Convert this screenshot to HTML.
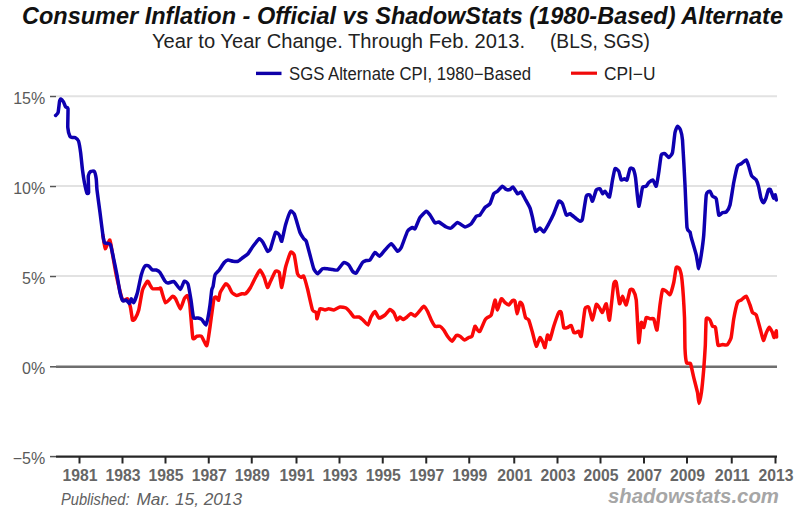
<!DOCTYPE html>
<html><head><meta charset="utf-8"><style>
html,body{margin:0;padding:0;background:#fff;}
svg{display:block;}
text{font-family:"Liberation Sans",sans-serif;}
</style></head><body>
<svg width="800" height="512" viewBox="0 0 800 512">
<rect width="800" height="512" fill="#fff"/>
<text x="22" y="23.5" font-size="23.5" font-weight="bold" font-style="italic" fill="#111" textLength="761" lengthAdjust="spacingAndGlyphs">Consumer Inflation - Official vs ShadowStats (1980-Based) Alternate</text>
<text x="152" y="48" font-size="20.5" fill="#222" textLength="373" lengthAdjust="spacingAndGlyphs">Year to Year Change. Through Feb. 2013.</text>
<text x="550" y="48" font-size="20.5" fill="#222" textLength="100" lengthAdjust="spacingAndGlyphs">(BLS, SGS)</text>
<line x1="256" y1="73.4" x2="281.5" y2="73.4" stroke="#0e00a8" stroke-width="3.4"/>
<text x="289" y="80" font-size="17.5" fill="#222" textLength="242" lengthAdjust="spacingAndGlyphs">SGS Alternate CPI, 1980−Based</text>
<line x1="571" y1="73.2" x2="597" y2="73.2" stroke="#f00a0a" stroke-width="3.2"/>
<text x="604" y="80" font-size="17.5" fill="#222" textLength="51.5" lengthAdjust="spacingAndGlyphs">CPI−U</text>
<g stroke="#e2e2e2" stroke-width="2">
<line x1="56" y1="96.3" x2="777" y2="96.3"/>
<line x1="56" y1="186.1" x2="777" y2="186.1"/>
<line x1="56" y1="276" x2="777" y2="276"/>
</g>
<g stroke="#555" stroke-width="1.5">
<line x1="50" y1="96.5" x2="56" y2="96.5"/>
<line x1="50" y1="186.5" x2="56" y2="186.5"/>
<line x1="50" y1="276.5" x2="56" y2="276.5"/>
<line x1="50" y1="366.8" x2="56" y2="366.8"/>
<line x1="50" y1="456.6" x2="56" y2="456.6"/>
</g>
<line x1="56" y1="366.8" x2="777" y2="366.8" stroke="#6e6e6e" stroke-width="2.4"/>
<g font-size="16" fill="#5a5a5a" text-anchor="end">
<text x="45.2" y="103.8">15%</text>
<text x="45.2" y="193.8">10%</text>
<text x="45.2" y="283.8">5%</text>
<text x="45.2" y="373.8">0%</text>
<text x="45.2" y="463.8">−5%</text>
</g>
<path d="M102.90 235.20 C103.09 236.32 104.62 248.30 105.20 248.70 C105.78 249.10 109.25 239.31 109.90 240.00 C110.55 240.69 112.47 254.08 113.00 257.00 C113.53 259.92 115.46 271.42 116.25 275.00 C117.04 278.58 121.56 298.02 122.50 300.00 C123.44 301.98 126.83 298.12 127.50 298.75 C128.17 299.38 130.08 305.73 130.50 307.50 C130.92 309.27 132.12 319.06 132.50 320.00 C132.88 320.94 134.48 319.58 135.00 318.75 C135.52 317.92 138.12 312.40 138.75 310.00 C139.38 307.60 141.77 292.40 142.50 290.00 C143.23 287.60 146.88 281.67 147.50 281.25 C148.12 280.83 149.58 284.38 150.00 285.00 C150.42 285.62 151.77 288.44 152.50 288.75 C153.23 289.06 158.06 288.76 158.75 288.75 C159.44 288.74 160.24 287.44 160.80 288.60 C161.36 289.76 164.53 302.05 165.50 302.70 C166.47 303.35 171.66 296.72 172.50 296.40 C173.34 296.07 174.95 297.76 175.60 298.80 C176.25 299.84 179.58 308.90 180.30 308.90 C181.02 308.90 183.67 299.86 184.25 298.75 C184.83 297.64 186.85 295.21 187.30 295.60 C187.75 295.99 189.24 299.88 189.70 303.40 C190.16 306.92 192.22 335.06 192.80 337.80 C193.38 340.54 195.98 336.43 196.70 336.30 C197.42 336.18 200.55 335.53 201.40 336.30 C202.25 337.07 206.18 346.38 206.90 345.60 C207.62 344.82 209.42 330.80 210.00 326.90 C210.58 323.00 213.38 301.28 213.90 298.80 C214.43 296.32 215.91 297.07 216.30 297.20 C216.69 297.32 218.28 300.69 218.60 300.30 C218.92 299.91 219.62 293.87 220.20 292.50 C220.78 291.13 224.89 284.42 225.60 283.90 C226.31 283.38 228.22 285.53 228.75 286.25 C229.28 286.97 231.25 291.72 231.90 292.50 C232.55 293.28 235.78 295.50 236.60 295.60 C237.42 295.70 241.01 293.90 241.75 293.75 C242.49 293.60 244.77 294.27 245.50 293.75 C246.23 293.23 249.67 288.85 250.50 287.50 C251.33 286.15 254.71 278.96 255.50 277.50 C256.29 276.04 259.27 270.00 260.00 270.00 C260.73 270.00 263.62 276.04 264.25 277.50 C264.88 278.96 266.98 287.19 267.50 287.50 C268.02 287.81 269.83 282.60 270.50 281.25 C271.17 279.90 274.77 271.98 275.50 271.25 C276.23 270.52 278.73 271.15 279.25 272.50 C279.77 273.85 281.23 287.92 281.75 287.50 C282.27 287.08 284.77 270.42 285.50 267.50 C286.23 264.58 289.77 253.54 290.50 252.50 C291.23 251.46 293.67 253.23 294.25 255.00 C294.83 256.77 296.92 271.88 297.50 273.75 C298.08 275.62 300.73 277.29 301.25 277.50 C301.77 277.71 303.23 275.31 303.75 276.25 C304.27 277.19 306.77 285.94 307.50 288.75 C308.23 291.56 311.77 308.02 312.50 310.00 C313.23 311.98 315.88 311.77 316.25 312.50 C316.62 313.23 316.69 319.06 317.00 318.75 C317.31 318.44 319.33 309.48 320.00 308.75 C320.67 308.02 324.27 310.00 325.00 310.00 C325.73 310.00 328.02 308.75 328.75 308.75 C329.48 308.75 332.81 310.15 333.75 310.00 C334.69 309.85 338.98 307.17 340.00 307.00 C341.02 306.83 345.17 307.58 346.00 308.00 C346.83 308.42 349.33 311.25 350.00 312.00 C350.67 312.75 353.25 316.58 354.00 317.00 C354.75 317.42 358.25 316.75 359.00 317.00 C359.75 317.25 362.25 319.33 363.00 320.00 C363.75 320.67 367.33 325.25 368.00 325.00 C368.67 324.75 370.42 318.12 371.00 317.00 C371.58 315.88 374.33 311.42 375.00 311.50 C375.67 311.58 378.17 317.71 379.00 318.00 C379.83 318.29 384.08 315.71 385.00 315.00 C385.92 314.29 389.25 309.67 390.00 309.50 C390.75 309.33 393.42 312.12 394.00 313.00 C394.58 313.88 396.50 319.67 397.00 320.00 C397.50 320.33 399.50 317.04 400.00 317.00 C400.50 316.96 402.42 319.50 403.00 319.50 C403.58 319.50 406.33 317.50 407.00 317.00 C407.67 316.50 410.33 313.58 411.00 313.50 C411.67 313.42 414.25 316.25 415.00 316.00 C415.75 315.75 419.27 311.31 420.00 310.50 C420.73 309.69 423.12 306.19 423.75 306.25 C424.38 306.31 426.88 310.10 427.50 311.25 C428.12 312.40 430.62 318.75 431.25 320.00 C431.88 321.25 434.27 325.73 435.00 326.25 C435.73 326.77 439.27 325.94 440.00 326.25 C440.73 326.56 443.12 329.17 443.75 330.00 C444.38 330.83 446.81 335.31 447.50 336.25 C448.19 337.19 451.27 341.31 452.00 341.25 C452.73 341.19 455.58 335.92 456.25 335.50 C456.92 335.08 459.31 335.88 460.00 336.25 C460.69 336.62 463.77 339.90 464.50 340.00 C465.23 340.10 468.12 337.81 468.75 337.50 C469.38 337.19 471.48 337.19 472.00 336.25 C472.52 335.31 474.54 326.77 475.00 326.25 C475.46 325.73 477.08 329.58 477.50 330.00 C477.92 330.42 479.38 332.08 480.00 331.25 C480.62 330.42 484.38 321.15 485.00 320.00 C485.62 318.85 486.98 317.92 487.50 317.50 C488.02 317.08 490.62 316.46 491.25 315.00 C491.88 313.54 494.48 300.42 495.00 300.00 C495.52 299.58 496.98 310.10 497.50 310.00 C498.02 309.90 500.62 299.38 501.25 298.75 C501.88 298.12 504.38 301.98 505.00 302.50 C505.62 303.02 508.12 305.17 508.75 305.00 C509.38 304.83 511.98 300.81 512.50 300.50 C513.02 300.19 514.62 300.15 515.00 301.25 C515.38 302.35 516.58 313.65 517.00 313.75 C517.42 313.85 519.54 303.23 520.00 302.50 C520.46 301.77 522.04 303.75 522.50 305.00 C522.96 306.25 524.98 316.25 525.50 317.50 C526.02 318.75 528.17 318.75 528.75 320.00 C529.33 321.25 531.88 330.31 532.50 332.50 C533.12 334.69 535.62 345.83 536.25 346.25 C536.88 346.67 539.44 337.81 540.00 337.50 C540.56 337.19 542.58 341.67 543.00 342.50 C543.42 343.33 544.62 348.12 545.00 347.50 C545.38 346.88 547.08 335.67 547.50 335.00 C547.92 334.33 549.48 340.23 550.00 339.50 C550.52 338.77 553.02 328.50 553.75 326.25 C554.48 324.00 558.12 313.65 558.75 312.50 C559.38 311.35 560.83 311.25 561.25 312.50 C561.67 313.75 563.23 326.25 563.75 327.50 C564.27 328.75 566.88 327.67 567.50 327.50 C568.12 327.33 570.73 325.08 571.25 325.50 C571.77 325.92 573.33 331.92 573.75 332.50 C574.17 333.08 575.83 332.60 576.25 332.50 C576.67 332.40 578.33 330.94 578.75 331.25 C579.17 331.56 580.73 338.12 581.25 336.25 C581.77 334.38 584.38 311.15 585.00 308.75 C585.62 306.35 588.12 306.56 588.75 307.50 C589.38 308.44 591.88 320.25 592.50 320.00 C593.12 319.75 595.62 305.44 596.25 304.50 C596.88 303.56 599.48 308.08 600.00 308.75 C600.52 309.42 601.98 312.92 602.50 312.50 C603.02 312.08 605.67 303.12 606.25 303.75 C606.83 304.38 608.88 321.67 609.50 320.00 C610.12 318.33 613.19 286.88 613.75 283.75 C614.31 280.62 615.77 280.83 616.25 282.50 C616.73 284.17 618.98 302.60 619.50 303.75 C620.02 304.90 621.94 296.15 622.50 296.25 C623.06 296.35 625.62 305.52 626.25 305.00 C626.88 304.48 629.44 291.25 630.00 290.00 C630.56 288.75 632.48 289.17 633.00 290.00 C633.52 290.83 635.77 295.62 636.25 300.00 C636.73 304.38 638.33 340.62 638.75 342.50 C639.17 344.38 640.83 323.75 641.25 322.50 C641.67 321.25 643.33 327.92 643.75 327.50 C644.17 327.08 645.73 318.23 646.25 317.50 C646.77 316.77 649.38 318.62 650.00 318.75 C650.62 318.88 653.17 318.06 653.75 319.00 C654.33 319.94 656.48 331.17 657.00 330.00 C657.52 328.83 659.54 308.33 660.00 305.00 C660.46 301.67 661.98 291.15 662.50 290.00 C663.02 288.85 665.62 290.88 666.25 291.25 C666.88 291.62 669.38 295.23 670.00 294.50 C670.62 293.77 673.23 284.75 673.75 282.50 C674.27 280.25 675.77 268.65 676.25 267.50 C676.73 266.35 679.02 267.71 679.50 268.75 C679.98 269.79 681.58 275.94 682.00 280.00 C682.42 284.06 684.25 311.77 684.50 317.50 C684.75 323.23 684.83 344.98 685.00 348.75 C685.17 352.52 686.14 361.56 686.60 362.80 C687.06 364.04 689.92 362.43 690.50 363.60 C691.08 364.78 693.02 374.49 693.60 376.90 C694.18 379.31 697.05 390.29 697.50 392.50 C697.95 394.71 698.67 403.40 699.00 403.40 C699.33 403.40 701.00 395.37 701.40 392.50 C701.80 389.63 703.42 372.91 703.75 369.00 C704.08 365.09 705.09 349.79 705.30 345.60 C705.51 341.41 705.86 320.88 706.25 318.75 C706.64 316.62 709.48 319.38 710.00 320.00 C710.52 320.62 712.04 325.62 712.50 326.25 C712.96 326.88 715.04 325.94 715.50 327.50 C715.96 329.06 717.42 343.58 718.00 345.00 C718.58 346.42 721.73 344.52 722.50 344.50 C723.27 344.48 726.48 345.36 727.20 344.80 C727.92 344.24 730.55 339.97 731.10 337.80 C731.65 335.63 733.22 321.69 733.75 318.75 C734.28 315.81 736.88 304.06 737.50 302.50 C738.12 300.94 740.52 300.52 741.25 300.00 C741.98 299.48 745.52 295.83 746.25 296.25 C746.98 296.67 749.48 303.65 750.00 305.00 C750.52 306.35 751.98 311.67 752.50 312.50 C753.02 313.33 755.58 313.54 756.25 315.00 C756.92 316.46 759.90 327.88 760.50 330.00 C761.10 332.12 762.92 340.25 763.40 340.50 C763.88 340.75 765.71 334.10 766.20 333.00 C766.69 331.90 768.80 327.38 769.30 327.30 C769.80 327.22 771.79 331.14 772.20 332.00 C772.61 332.86 773.87 337.71 774.20 337.60 C774.53 337.49 776.00 330.75 776.20 330.70 C776.40 330.65 776.57 336.48 776.60 337.00" fill="none" stroke="#fa0808" stroke-width="3.5" stroke-linejoin="round" stroke-linecap="round"/>
<path d="M55.60 115.50 C55.81 115.25 57.77 113.71 58.10 112.50 C58.43 111.29 59.38 102.12 59.60 101.00 C59.83 99.88 60.47 98.92 60.80 99.00 C61.12 99.08 63.10 101.24 63.50 101.90 C63.90 102.56 65.22 106.33 65.60 106.90 C65.97 107.47 67.82 107.03 68.00 108.75 C68.18 110.47 67.63 125.19 67.80 127.50 C67.97 129.81 69.61 135.67 70.00 136.50 C70.39 137.33 72.08 137.42 72.50 137.50 C72.92 137.58 74.50 137.21 75.00 137.50 C75.50 137.79 78.03 139.75 78.50 141.00 C78.97 142.25 80.27 150.08 80.60 152.50 C80.93 154.92 82.18 167.50 82.50 170.00 C82.82 172.50 84.03 180.58 84.40 182.50 C84.77 184.42 86.55 192.17 86.90 193.00 C87.25 193.83 88.48 193.92 88.60 192.50 C88.72 191.08 88.13 177.75 88.30 176.00 C88.47 174.25 90.09 171.88 90.60 171.50 C91.11 171.12 93.93 170.88 94.40 171.50 C94.87 172.12 96.03 177.46 96.25 179.00 C96.47 180.54 96.69 187.21 97.00 190.00 C97.31 192.79 99.51 208.73 100.00 212.50 C100.49 216.27 102.51 232.67 102.90 235.20 C103.29 237.73 104.26 242.22 104.65 242.90 C105.04 243.58 107.11 243.26 107.60 243.40 C108.09 243.54 110.02 243.42 110.50 244.60 C110.98 245.78 112.86 254.97 113.40 257.50 C113.94 260.03 116.45 272.08 117.00 275.00 C117.55 277.92 119.50 290.33 120.00 292.50 C120.50 294.67 122.48 300.38 123.00 301.00 C123.52 301.62 125.71 299.77 126.25 300.00 C126.79 300.23 129.08 303.85 129.50 303.75 C129.92 303.65 130.90 298.85 131.25 298.75 C131.60 298.65 133.23 303.02 133.75 302.50 C134.27 301.98 136.88 294.79 137.50 292.50 C138.12 290.21 140.62 277.21 141.25 275.00 C141.88 272.79 144.38 266.75 145.00 266.00 C145.62 265.25 148.12 265.67 148.75 266.00 C149.38 266.33 151.88 269.67 152.50 270.00 C153.12 270.33 155.62 269.79 156.25 270.00 C156.88 270.21 159.30 271.60 160.00 272.50 C160.70 273.40 164.05 279.92 164.70 280.80 C165.35 281.68 167.03 283.03 167.80 283.10 C168.58 283.17 172.96 281.08 174.00 281.60 C175.04 282.12 179.45 289.43 180.30 289.40 C181.15 289.37 183.61 281.70 184.25 281.25 C184.89 280.80 187.44 282.44 188.00 284.00 C188.56 285.56 190.54 297.21 191.00 300.00 C191.46 302.79 192.92 316.00 193.50 317.50 C194.08 319.00 197.31 317.83 198.00 318.00 C198.69 318.17 201.08 318.92 201.75 319.50 C202.42 320.08 205.48 325.17 206.00 325.00 C206.52 324.83 207.67 319.17 208.00 317.50 C208.33 315.83 209.69 307.29 210.00 305.00 C210.31 302.71 211.49 291.56 211.75 290.00 C212.01 288.44 212.83 287.55 213.10 286.30 C213.37 285.05 214.49 276.36 215.00 275.00 C215.51 273.64 218.48 271.04 219.25 270.00 C220.02 268.96 223.52 263.33 224.25 262.50 C224.98 261.67 227.27 260.10 228.00 260.00 C228.73 259.90 232.17 261.15 233.00 261.25 C233.83 261.35 237.17 261.56 238.00 261.25 C238.83 260.94 242.17 258.12 243.00 257.50 C243.83 256.88 247.17 254.69 248.00 253.75 C248.83 252.81 252.06 247.50 253.00 246.25 C253.94 245.00 258.42 239.06 259.25 238.75 C260.08 238.44 262.31 241.46 263.00 242.50 C263.69 243.54 266.88 250.73 267.50 251.25 C268.12 251.77 269.83 250.31 270.50 248.75 C271.17 247.19 274.77 233.65 275.50 232.50 C276.23 231.35 278.73 234.27 279.25 235.00 C279.77 235.73 281.23 242.08 281.75 241.25 C282.27 240.42 284.77 227.50 285.50 225.00 C286.23 222.50 289.77 212.17 290.50 211.25 C291.23 210.33 293.77 213.27 294.25 214.00 C294.73 214.73 295.77 218.46 296.25 220.00 C296.73 221.54 299.38 230.94 300.00 232.50 C300.62 234.06 303.23 238.02 303.75 238.75 C304.27 239.48 305.73 239.90 306.25 241.25 C306.77 242.60 309.38 252.71 310.00 255.00 C310.62 257.29 313.12 267.19 313.75 268.75 C314.38 270.31 316.77 273.75 317.50 273.75 C318.23 273.75 321.67 269.17 322.50 268.75 C323.33 268.33 326.67 268.69 327.50 268.75 C328.33 268.81 331.67 269.40 332.50 269.50 C333.33 269.60 336.56 270.58 337.50 270.00 C338.44 269.42 342.81 262.92 343.75 262.50 C344.69 262.08 348.02 264.27 348.75 265.00 C349.48 265.73 351.88 270.58 352.50 271.25 C353.12 271.92 355.42 273.73 356.25 273.00 C357.08 272.27 361.67 263.54 362.50 262.50 C363.33 261.46 365.62 260.71 366.25 260.50 C366.88 260.29 369.27 260.67 370.00 260.00 C370.73 259.33 374.21 252.81 375.00 252.50 C375.79 252.19 378.67 256.46 379.50 256.25 C380.33 256.04 384.02 251.04 385.00 250.00 C385.98 248.96 390.21 243.65 391.25 243.75 C392.29 243.85 396.67 250.94 397.50 251.25 C398.33 251.56 400.42 249.17 401.25 247.50 C402.08 245.83 406.56 232.92 407.50 231.25 C408.44 229.58 411.88 227.71 412.50 227.50 C413.12 227.29 414.38 229.58 415.00 228.75 C415.62 227.92 419.06 218.96 420.00 217.50 C420.94 216.04 425.42 211.46 426.25 211.25 C427.08 211.04 429.27 214.02 430.00 215.00 C430.73 215.98 434.27 222.42 435.00 223.00 C435.73 223.58 437.81 221.67 438.75 222.00 C439.69 222.33 445.21 226.50 446.25 227.00 C447.29 227.50 450.31 228.38 451.25 228.00 C452.19 227.62 456.35 222.58 457.50 222.50 C458.65 222.42 463.85 226.90 465.00 227.00 C466.15 227.10 470.31 224.65 471.25 223.75 C472.19 222.85 475.52 216.98 476.25 216.25 C476.98 215.52 479.27 215.73 480.00 215.00 C480.73 214.27 484.17 208.44 485.00 207.50 C485.83 206.56 489.27 204.90 490.00 203.75 C490.73 202.60 493.12 194.79 493.75 193.75 C494.38 192.71 496.77 191.88 497.50 191.25 C498.23 190.62 501.77 186.40 502.50 186.25 C503.23 186.10 505.62 189.23 506.25 189.50 C506.88 189.77 509.44 189.71 510.00 189.50 C510.56 189.29 512.38 186.65 513.00 187.00 C513.62 187.35 516.81 193.33 517.50 193.75 C518.19 194.17 520.62 191.58 521.25 192.00 C521.88 192.42 524.27 197.42 525.00 198.75 C525.73 200.08 529.38 206.44 530.00 208.00 C530.62 209.56 532.04 215.56 532.50 217.50 C532.96 219.44 534.88 230.38 535.50 231.25 C536.12 232.12 539.31 227.94 540.00 228.00 C540.69 228.06 543.02 232.35 543.75 232.00 C544.48 231.65 547.92 225.27 548.75 223.75 C549.58 222.23 552.92 215.62 553.75 213.75 C554.58 211.88 558.02 202.08 558.75 201.25 C559.48 200.42 561.88 202.60 562.50 203.75 C563.12 204.90 565.62 214.17 566.25 215.00 C566.88 215.83 569.17 213.44 570.00 213.75 C570.83 214.06 575.42 218.12 576.25 218.75 C577.08 219.38 579.48 221.25 580.00 221.25 C580.52 221.25 581.98 220.83 582.50 218.75 C583.02 216.67 585.62 198.23 586.25 196.25 C586.88 194.27 589.48 194.58 590.00 195.00 C590.52 195.42 591.98 201.67 592.50 201.25 C593.02 200.83 595.62 191.04 596.25 190.00 C596.88 188.96 599.48 188.44 600.00 188.75 C600.52 189.06 602.08 193.54 602.50 193.75 C602.92 193.96 604.42 190.98 605.00 191.25 C605.58 191.52 608.88 197.94 609.50 197.00 C610.12 196.06 612.04 182.35 612.50 180.00 C612.96 177.65 614.48 169.48 615.00 168.75 C615.52 168.02 618.23 170.31 618.75 171.25 C619.27 172.19 620.77 179.38 621.25 180.00 C621.73 180.62 624.02 178.75 624.50 178.75 C624.98 178.75 626.54 180.83 627.00 180.00 C627.46 179.17 629.50 169.69 630.00 168.75 C630.50 167.81 632.54 168.02 633.00 168.75 C633.46 169.48 635.02 174.38 635.50 177.50 C635.98 180.62 638.17 205.42 638.75 206.25 C639.33 207.08 641.88 189.17 642.50 187.50 C643.12 185.83 645.73 186.67 646.25 186.25 C646.77 185.83 648.19 183.02 648.75 182.50 C649.31 181.98 652.38 179.69 653.00 180.00 C653.62 180.31 655.77 186.88 656.25 186.25 C656.73 185.62 658.33 175.10 658.75 172.50 C659.17 169.90 660.73 156.56 661.25 155.00 C661.77 153.44 664.38 153.54 665.00 153.75 C665.62 153.96 668.12 157.60 668.75 157.50 C669.38 157.40 671.98 154.58 672.50 152.50 C673.02 150.42 674.58 134.69 675.00 132.50 C675.42 130.31 677.04 126.46 677.50 126.25 C677.96 126.04 680.08 128.85 680.50 130.00 C680.92 131.15 682.12 135.42 682.50 140.00 C682.88 144.58 684.62 177.71 685.00 185.00 C685.38 192.29 686.58 223.58 687.00 227.50 C687.42 231.42 689.65 231.17 690.00 232.00 C690.35 232.83 690.73 235.58 691.25 237.50 C691.77 239.42 695.62 252.40 696.25 255.00 C696.88 257.60 698.33 268.75 698.75 268.75 C699.17 268.75 700.83 257.81 701.25 255.00 C701.67 252.19 703.33 240.00 703.75 235.00 C704.17 230.00 705.73 198.65 706.25 195.00 C706.77 191.35 709.48 191.15 710.00 191.25 C710.52 191.35 711.98 195.62 712.50 196.25 C713.02 196.88 715.73 197.19 716.25 198.75 C716.77 200.31 718.23 213.85 718.75 215.00 C719.27 216.15 721.88 212.75 722.50 212.50 C723.12 212.25 725.62 212.62 726.25 212.00 C726.88 211.38 729.38 207.46 730.00 205.00 C730.62 202.54 733.12 185.73 733.75 182.50 C734.38 179.27 736.88 167.81 737.50 166.25 C738.12 164.69 740.52 164.27 741.25 163.75 C741.98 163.23 745.62 159.79 746.25 160.00 C746.88 160.21 748.45 165.42 748.75 166.25 C749.05 167.08 749.55 169.20 749.80 170.00 C750.05 170.80 751.18 175.08 751.70 175.90 C752.23 176.72 755.52 178.91 756.10 179.80 C756.68 180.69 758.19 185.06 758.60 186.60 C759.01 188.14 760.60 196.96 761.00 198.30 C761.40 199.64 762.99 202.70 763.40 202.70 C763.81 202.70 765.49 199.36 765.90 198.30 C766.31 197.24 767.93 190.73 768.30 190.00 C768.67 189.27 769.97 189.13 770.30 189.50 C770.62 189.87 771.92 193.67 772.20 194.40 C772.48 195.13 773.44 198.27 773.70 198.30 C773.96 198.33 775.08 194.66 775.30 194.80 C775.52 194.94 776.22 199.57 776.30 200.00" fill="none" stroke="#0e00b0" stroke-width="3.5" stroke-linejoin="round" stroke-linecap="round"/>
<line x1="56" y1="456.6" x2="777" y2="456.6" stroke="#262626" stroke-width="2.1"/>
<g stroke="#262626" stroke-width="2"><line x1="79.5" y1="456" x2="79.5" y2="463.5"/><line x1="122.5" y1="456" x2="122.5" y2="463.5"/><line x1="165.5" y1="456" x2="165.5" y2="463.5"/><line x1="208.75" y1="456" x2="208.75" y2="463.5"/><line x1="251.75" y1="456" x2="251.75" y2="463.5"/><line x1="296.5" y1="456" x2="296.5" y2="463.5"/><line x1="339.5" y1="456" x2="339.5" y2="463.5"/><line x1="382.75" y1="456" x2="382.75" y2="463.5"/><line x1="426.25" y1="456" x2="426.25" y2="463.5"/><line x1="469.25" y1="456" x2="469.25" y2="463.5"/><line x1="514.25" y1="456" x2="514.25" y2="463.5"/><line x1="557.5" y1="456" x2="557.5" y2="463.5"/><line x1="600.5" y1="456" x2="600.5" y2="463.5"/><line x1="644" y1="456" x2="644" y2="463.5"/><line x1="687" y1="456" x2="687" y2="463.5"/><line x1="731.75" y1="456" x2="731.75" y2="463.5"/><line x1="775.5" y1="456" x2="775.5" y2="463.5"/></g>
<g font-size="17" font-weight="bold" fill="#666"><text x="80" y="480.75" text-anchor="middle" textLength="35" lengthAdjust="spacingAndGlyphs">1981</text><text x="123" y="480.75" text-anchor="middle" textLength="35" lengthAdjust="spacingAndGlyphs">1983</text><text x="166" y="480.75" text-anchor="middle" textLength="35" lengthAdjust="spacingAndGlyphs">1985</text><text x="209.25" y="480.75" text-anchor="middle" textLength="35" lengthAdjust="spacingAndGlyphs">1987</text><text x="252.25" y="480.75" text-anchor="middle" textLength="35" lengthAdjust="spacingAndGlyphs">1989</text><text x="297" y="480.75" text-anchor="middle" textLength="35" lengthAdjust="spacingAndGlyphs">1991</text><text x="340" y="480.75" text-anchor="middle" textLength="35" lengthAdjust="spacingAndGlyphs">1993</text><text x="383.25" y="480.75" text-anchor="middle" textLength="35" lengthAdjust="spacingAndGlyphs">1995</text><text x="426.75" y="480.75" text-anchor="middle" textLength="35" lengthAdjust="spacingAndGlyphs">1997</text><text x="469.75" y="480.75" text-anchor="middle" textLength="35" lengthAdjust="spacingAndGlyphs">1999</text><text x="514.75" y="480.75" text-anchor="middle" textLength="35" lengthAdjust="spacingAndGlyphs">2001</text><text x="558" y="480.75" text-anchor="middle" textLength="35" lengthAdjust="spacingAndGlyphs">2003</text><text x="601" y="480.75" text-anchor="middle" textLength="35" lengthAdjust="spacingAndGlyphs">2005</text><text x="644.5" y="480.75" text-anchor="middle" textLength="35" lengthAdjust="spacingAndGlyphs">2007</text><text x="687.5" y="480.75" text-anchor="middle" textLength="35" lengthAdjust="spacingAndGlyphs">2009</text><text x="732.25" y="480.75" text-anchor="middle" textLength="35" lengthAdjust="spacingAndGlyphs">2011</text><text x="776" y="480.75" text-anchor="middle" textLength="35" lengthAdjust="spacingAndGlyphs">2013</text></g>
<g font-size="16" font-style="italic" fill="#606060"><text x="61" y="505" textLength="68.5" lengthAdjust="spacingAndGlyphs">Published:</text><text x="136.5" y="505" textLength="105.5" lengthAdjust="spacingAndGlyphs">Mar. 15, 2013</text></g>
<text x="608" y="502.5" font-size="20" font-weight="bold" font-style="italic" fill="#a6a6a6" textLength="171" lengthAdjust="spacingAndGlyphs">shadowstats.com</text>
</svg>
</body></html>
